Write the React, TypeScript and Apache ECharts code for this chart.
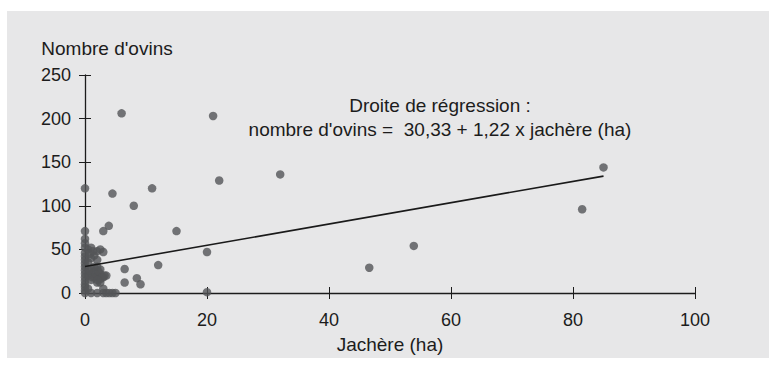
import React, { useEffect, useRef } from "react";
import * as echarts from "echarts";

// Jachère (ha) values
const jachere: number[] = [
  6.0, 21.0, 32.0, 22.0, 85.0, 81.5, 0, 4.5, 11.0, 8.0, 15.0, 3.9, 3.0, 0,
  53.9, 20.0, 46.6, 12.0, 6.5, 6.5, 8.5, 9.1, 20.0, 3.0,
  0, 0, 0, 0, 0, 0, 0, 0, 0, 0, 0, 0, 0, 0, 0, 0,
  0.5, 0.5, 0.5, 0.5,
  1.0, 1.0, 1.0, 1.0, 1.0, 1.0,
  1.5, 1.5, 1.5,
  2.0, 2.0, 2.0, 2.0, 2.0, 2.0,
  2.5, 2.5, 2.5, 2.5,
  3.0, 3.0, 3.0,
  3.5, 3.5,
  4.0, 4.5, 5.0,
  1.2, 1.8, 2.2, 2.8, 3.2, 1.5, 2.5, 0.8, 1.3, 0.6, 2.0,
];
// Nombre d'ovins values
const ovins: number[] = [
  206, 203, 136, 129, 144, 96, 120, 114, 120, 100, 71, 77, 71, 71,
  54, 47, 29, 32, 27.5, 12, 17, 10, 1, 47,
  0, 3, 7, 10, 14, 18, 22, 26, 30, 34, 38, 42, 46, 52, 57, 62,
  20, 35, 50, 5,
  0, 15, 22, 28, 40, 52,
  18, 25, 43,
  0, 12, 20, 30, 48, 38,
  16, 22, 27, 50,
  0, 18, 5,
  20, 0,
  0, 0, 0,
  18, 22, 25, 18, 20, 30, 12, 45, 48, 26, 15,
];
const xTicks = [0, 20, 40, 60, 80, 100];
const yTicks = [0, 50, 100, 150, 200, 250];
const intercept = 30.33;
const slope = 1.22;
const lineRange = [0, 85];

export default function App() {
  const ref = useRef<HTMLDivElement>(null);
  useEffect(() => {
    document.body.style.margin = "0";
    const chart = echarts.init(ref.current!, null, { renderer: "svg" });
    const points = jachere.map((x, i) => [x, ovins[i]]);
    const reg = lineRange.map((x) => [x, intercept + slope * x]);
    const font = "'Liberation Sans', Arial, Helvetica, sans-serif";
    const textColor = "#1c1c1c";
    const axisColor = "#1c1c1c";
    const xBase = {
      type: "value" as const,
      min: xTicks[0],
      max: xTicks[xTicks.length - 1],
      interval: 20,
      position: "bottom" as const,
      splitLine: { show: false },
    };
    const yBase = {
      type: "value" as const,
      min: yTicks[0],
      max: yTicks[yTicks.length - 1],
      interval: 50,
      position: "left" as const,
      splitLine: { show: false },
    };
    chart.setOption({
      animation: false,
      backgroundColor: "#ffffff",
      textStyle: { fontFamily: font },
      graphic: [
        {
          type: "rect",
          z: -10,
          shape: { x: 7, y: 11, width: 762, height: 347 },
          style: { fill: "#e7e7e8" },
        },
        {
          type: "text",
          x: 107,
          y: 48,
          style: {
            text: "Nombre d'ovins",
            fontSize: 19,
            fontFamily: font,
            fill: textColor,
            align: "center",
            verticalAlign: "middle",
          },
        },
        {
          type: "text",
          x: 390,
          y: 344,
          style: {
            text: "Jachère (ha)",
            fontSize: 19,
            fontFamily: font,
            fill: textColor,
            align: "center",
            verticalAlign: "middle",
          },
        },
        {
          type: "text",
          x: 440,
          y: 105,
          style: {
            text: "Droite de régression :",
            fontSize: 19,
            fontFamily: font,
            fill: textColor,
            align: "center",
            verticalAlign: "middle",
          },
        },
        {
          type: "text",
          x: 440,
          y: 129,
          style: {
            text: "nombre d'ovins =  30,33 + 1,22 x jachère (ha)",
            fontSize: 19,
            fontFamily: font,
            fill: textColor,
            align: "center",
            verticalAlign: "middle",
          },
        },
      ],
      grid: { left: 85, right: 74, top: 75, bottom: 75, containLabel: false },
      xAxis: [
        {
          ...xBase,
          axisLine: { show: true, onZero: false, lineStyle: { color: axisColor, width: 1.3 } },
          axisTick: { show: true, inside: true, length: 6, lineStyle: { color: axisColor, width: 1 } },
          axisLabel: { margin: 18, fontSize: 18, color: textColor, fontFamily: font },
        },
        {
          ...xBase,
          axisLine: { show: false },
          axisTick: { show: true, inside: false, length: 6, lineStyle: { color: axisColor, width: 1 } },
          axisLabel: { show: false },
        },
      ],
      yAxis: [
        {
          ...yBase,
          axisLine: { show: true, onZero: false, lineStyle: { color: axisColor, width: 1.3 } },
          axisTick: { show: true, inside: true, length: 6, lineStyle: { color: axisColor, width: 1 } },
          axisLabel: { margin: 14, fontSize: 18, color: textColor, fontFamily: font },
        },
        {
          ...yBase,
          axisLine: { show: false },
          axisTick: { show: true, inside: false, length: 6, lineStyle: { color: axisColor, width: 1 } },
          axisLabel: { show: false },
        },
      ],
      series: [
        {
          type: "scatter",
          xAxisIndex: 0,
          yAxisIndex: 0,
          data: points,
          symbol: "circle",
          symbolSize: 8.5,
          itemStyle: { color: "#545557" },
          z: 3,
        },
        {
          type: "line",
          xAxisIndex: 0,
          yAxisIndex: 0,
          data: reg,
          symbol: "none",
          lineStyle: { color: "#1a1a1a", width: 1.6 },
          z: 4,
        },
      ],
    });
    return () => chart.dispose();
  }, []);
  return <div ref={ref} style={{ width: 769, height: 368 }} />;
}
